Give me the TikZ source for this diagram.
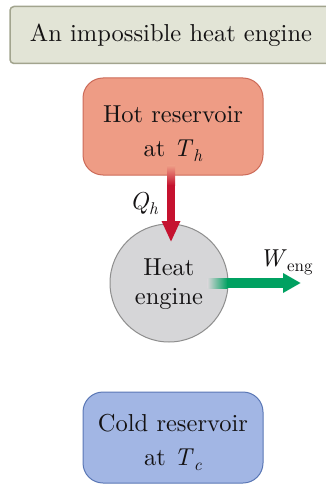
\documentclass[tikz,border=0pt]{standalone}
\usepackage{fontspec}
\setmainfont{lmroman10}[Extension=.otf, UprightFont=*-regular, ItalicFont=*-italic, BoldFont=*-bold]
\usetikzlibrary{calc}
\definecolor{titlefill}{HTML}{E2E4D6}
\definecolor{titledraw}{HTML}{A2A48E}
\definecolor{hotfill}{HTML}{EE9C85}
\definecolor{hotdraw}{HTML}{CC6A58}
\definecolor{arrowred}{HTML}{C5122F}
\definecolor{engfill}{HTML}{D6D6D8}
\definecolor{engdraw}{HTML}{8E8E8E}
\definecolor{arrowgreen}{HTML}{00A161}
\definecolor{coldfill}{HTML}{A2B6E4}
\definecolor{colddraw}{HTML}{5A77B5}
\definecolor{ink}{HTML}{141213}
\newcommand{\itsub}[2]{\textit{#1}\raisebox{-5pt}{\fontsize{17}{17}\selectfont\textit{#2}}}
\newcommand{\rmsub}[2]{\textit{#1}\raisebox{-5pt}{\fontsize{17}{17}\selectfont #2}}
\begin{document}
\begin{tikzpicture}[x=1pt,y=-1pt,
  every node/.style={text=ink},
  bigtext/.style={font=\fontsize{24.5}{34}\selectfont, align=center},
  titlebox/.style={bigtext, draw=titledraw, fill=titlefill, line width=1.5pt, rounded corners=4pt, minimum width=322pt, minimum height=57pt, inner sep=0pt},
  resbox/.style={bigtext, line width=1pt, rounded corners=20pt, minimum width=180pt, inner sep=0pt},
  engbox/.style={bigtext, circle, draw=engdraw, fill=engfill, line width=1pt, minimum size=118pt, inner sep=0pt, font=\fontsize{24.5}{29}\selectfont},
  lbl/.style={font=\fontsize{24.5}{25}\selectfont, inner sep=0pt}
]
\useasboundingbox (0,0) rectangle (325,484);
\node[titlebox] (title) at (171,35) {An impossible heat engine};
\node[resbox, draw=hotdraw, fill=hotfill, minimum height=97pt] (hot) at (173,126.5) {\rule{0pt}{32pt}Hot reservoir\\at \itsub{T}{h}};
\node[engbox] (engine) at (169,283) {\rule{0pt}{20pt}Heat\\engine};
\node[resbox, draw=colddraw, fill=coldfill, minimum height=91pt] (cold) at (173,437.5) {\rule{0pt}{27pt}Cold reservoir\\at \itsub{T}{c}};
\node[lbl] (qh) at (144,203) {\itsub{Q}{h}};
\node[lbl] (weng) at (286,262) {\rmsub{W}{eng}};
% red arrow from hot reservoir into engine
\coordinate (rtop) at ($(hot.south)+(-2,-10)$);
\coordinate (rtip) at ($(engine.north)+(2,18)$);
\shade[top color=hotfill, bottom color=arrowred] ($(rtop)+(-4,0)$) rectangle ($(rtop)+(4,20)$);
\fill[arrowred] ($(rtop)+(-4,19.5)$) rectangle ($(rtip)+(4,-20)$);
\fill[arrowred] ($(rtip)+(-9.5,-20.5)$) -- ($(rtip)+(9.5,-20.5)$) -- (rtip) -- cycle;
% green arrow out of engine
\coordinate (gstart) at ($(engine.east)+(-21,0)$);
\coordinate (gtip) at ($(engine.east)+(72,0)$);
\shade[left color=engfill, right color=arrowgreen] ($(gstart)+(0,-5)$) rectangle ($(gstart)+(20,5)$);
\fill[arrowgreen] ($(gstart)+(19.5,-5)$) rectangle ($(gtip)+(-17,5)$);
\fill[arrowgreen] ($(gtip)+(-17.5,-10)$) -- ($(gtip)+(-17.5,10)$) -- (gtip) -- cycle;
\end{tikzpicture}
\end{document}
